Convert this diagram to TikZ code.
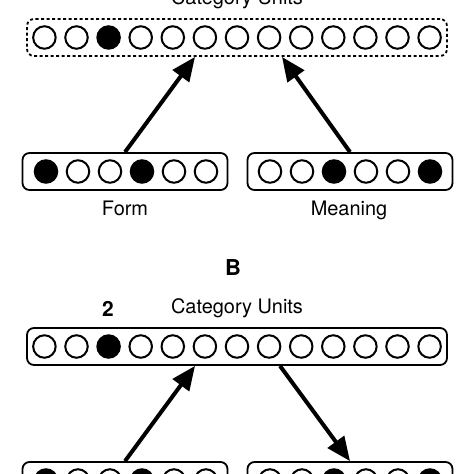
\documentclass[tikz,border=0pt]{standalone}
\usepackage{fontspec}
\setmainfont{TeX Gyre Heros}
\usetikzlibrary{arrows.meta}
\begin{document}
\begin{tikzpicture}[x=1bp, y=-1bp,
	layer/.style={draw, line width=1.8bp, rounded corners=7bp, minimum height=37bp, inner sep=0pt},
	unit/.style={circle, draw, line width=2bp, minimum size=22.5bp, inner sep=0pt},
	catdash/.style={dash pattern=on 3bp off 2.5bp},
	link/.style={line width=4bp, -{Triangle[length=24bp,width=20bp]}},
	lbl/.style={anchor=base, font=\fontsize{20}{24}\selectfont},
	bold lbl/.style={anchor=base, font=\fontsize{21}{25}\selectfont\bfseries}]
\useasboundingbox (0,0) rectangle (474,474);
\clip (0,0) rectangle (474,474);
\foreach \p/\y/\s in {A/37.5/catdash, B/346.5/solid}{
	\node[layer, \s, minimum width=420bp] (cat\p) at (237,\y) {};
	\foreach \i/\c in {0/white,1/white,2/black,3/white,4/white,5/white,6/white,7/white,8/white,9/white,10/white,11/white,12/white}
		\node[unit, fill=\c] (cat\p-\i) at ({237+32.1*(\i-6)},\y) {};
}
\foreach \p/\y in {A/171.5, B/480.5}{
	\node[layer, minimum width=205bp] (form\p) at (125,\y) {};
	\node[layer, minimum width=205bp] (meaning\p) at (350,\y) {};
	\foreach \i/\c in {0/black,1/white,2/white,3/black,4/white,5/white}
		\node[unit, fill=\c] (form\p-\i) at ({126+32*(\i-2.5)},\y) {};
	\foreach \i/\c in {0/white,1/white,2/black,3/white,4/white,5/black}
		\node[unit, fill=\c] (meaning\p-\i) at ({350+32*(\i-2.5)},\y) {};
}
\node[lbl] (catlabelA) at (237,5) {Category Units};
\node[lbl] (formlabel) at (125,216) {Form};
\node[lbl] (meaninglabel) at (349,216) {Meaning};
\node[bold lbl, font=\fontsize{22}{26}\selectfont\bfseries] (panelB) at (233,275) {B};
\node[lbl] (catlabelB) at (237,313) {Category Units};
\node[bold lbl] (stepnum) at (108,316) {2};
\draw[link] (formA.north) -- ([xshift=-42bp]catA.south);
\draw[link] (meaningA.north) -- ([xshift=45bp]catA.south);
\draw[link] (formB.north) -- ([xshift=-42bp]catB.south);
\draw[link] ([xshift=43bp]catB.south) -- (meaningB.north);
\end{tikzpicture}
\end{document}
